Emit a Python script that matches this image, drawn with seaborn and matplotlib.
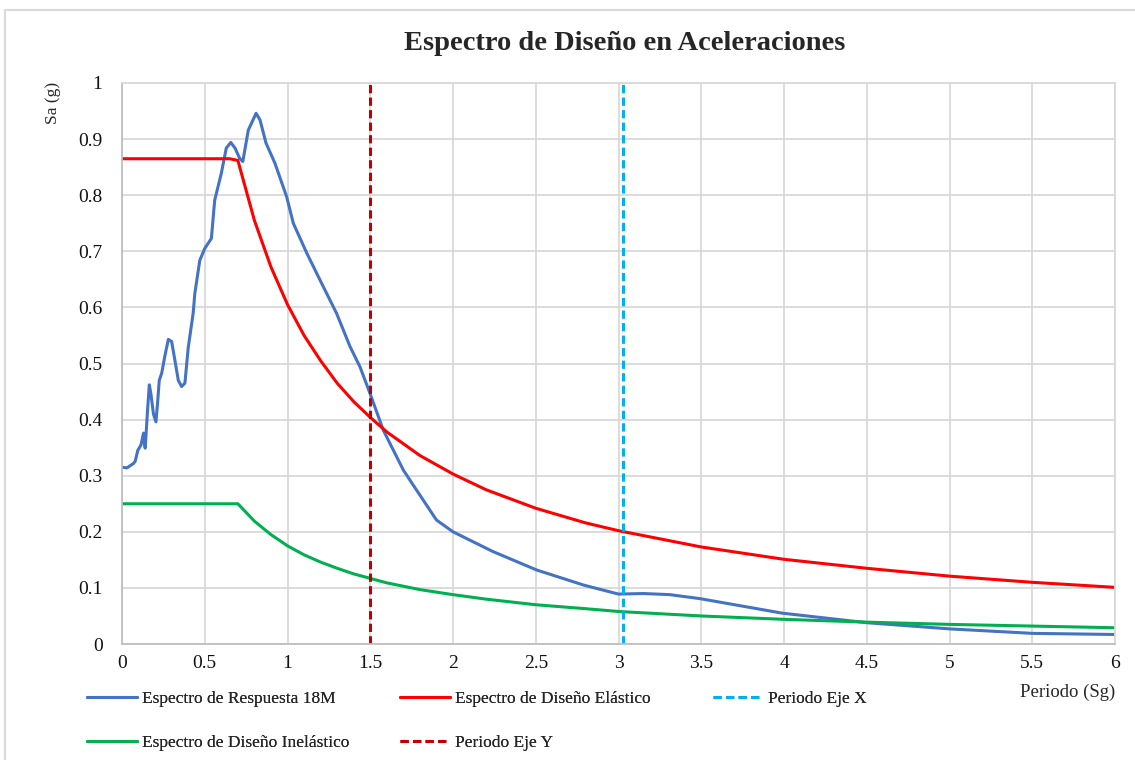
import numpy as np
import pandas as pd
import seaborn as sns
import matplotlib.pyplot as plt
from matplotlib.patches import Rectangle
from matplotlib.lines import Line2D

# Espectro de respuesta 18M
t_resp = [0.00, 0.03, 0.05, 0.07, 0.08, 0.095, 0.115, 0.13, 0.135, 0.14, 0.155, 0.165, 0.175,
          0.19, 0.205, 0.215, 0.225, 0.24, 0.26, 0.28, 0.30, 0.32, 0.34, 0.36, 0.38, 0.40,
          0.43, 0.44, 0.47, 0.50, 0.54, 0.56, 0.60, 0.63, 0.657, 0.683, 0.71, 0.73, 0.763,
          0.81, 0.834, 0.87, 0.924, 0.995, 1.035, 1.116, 1.196, 1.297, 1.378, 1.438, 1.498,
          1.579, 1.70, 1.74, 1.90, 2.00, 2.24, 2.505, 2.79, 3.00, 3.15, 3.31, 3.49, 3.99,
          4.50, 5.00, 5.50, 6.00]
sa_resp = [0.315, 0.314, 0.318, 0.322, 0.326, 0.345, 0.355, 0.376, 0.360, 0.349, 0.420, 0.462,
           0.445, 0.410, 0.396, 0.430, 0.470, 0.483, 0.515, 0.543, 0.539, 0.505, 0.470, 0.459,
           0.465, 0.528, 0.590, 0.625, 0.684, 0.705, 0.723, 0.791, 0.839, 0.884, 0.894, 0.884,
           0.866, 0.860, 0.916, 0.946, 0.934, 0.893, 0.857, 0.797, 0.750, 0.697, 0.649, 0.589,
           0.530, 0.494, 0.447, 0.381, 0.310, 0.292, 0.221, 0.200, 0.165, 0.132, 0.105, 0.089,
           0.090, 0.088, 0.081, 0.055, 0.038, 0.027, 0.019, 0.017]

# Espectro de diseño elástico / inelástico
t_dis = [0.0, 0.65, 0.7, 0.8, 0.9, 1.0, 1.1, 1.2, 1.3, 1.4, 1.5, 1.6, 1.8, 2.0, 2.2, 2.5, 2.8,
         3.0, 3.5, 4.0, 4.5, 5.0, 5.5, 6.0]
sa_elast = [0.865, 0.865, 0.862, 0.755, 0.672, 0.605, 0.550, 0.505, 0.465, 0.432, 0.404, 0.378,
            0.336, 0.303, 0.275, 0.242, 0.216, 0.202, 0.173, 0.151, 0.135, 0.121, 0.110, 0.101]
sa_inel = [0.250, 0.250, 0.250, 0.219, 0.195, 0.175, 0.159, 0.146, 0.135, 0.125, 0.117, 0.109,
           0.097, 0.088, 0.080, 0.070, 0.063, 0.058, 0.050, 0.044, 0.039, 0.035, 0.032, 0.029]

# Periodos de los ejes
periodo_x = [3.03, 3.03]
periodo_y = [1.5, 1.5]
sa_vert = [0.0, 1.0]

x_ticks = [0, 0.5, 1, 1.5, 2, 2.5, 3, 3.5, 4, 4.5, 5, 5.5, 6]
x_labels = ["0", "0.5", "1", "1.5", "2", "2.5", "3", "3.5", "4", "4.5", "5", "5.5", "6"]
y_ticks = [0, 0.1, 0.2, 0.3, 0.4, 0.5, 0.6, 0.7, 0.8, 0.9, 1.0]
y_labels = ["0", "0.1", "0.2", "0.3", "0.4", "0.5", "0.6", "0.7", "0.8", "0.9", "1"]

c_resp = "#4472C4"
c_elast = "#FF0000"
c_inel = "#00B050"
c_px = "#00B0F0"
c_py = "#C00000"
lw = 2.2
dash = (2.7, 1.4)

sns.set_theme(style="whitegrid")
plt.rcParams['font.family'] = ['Liberation Serif', 'DejaVu Serif']

fig = plt.figure(figsize=(11.35, 7.6), dpi=100)
ax = fig.add_axes([0.1075, 0.1526, 0.8749, 0.7382])

sns.lineplot(x=t_resp, y=sa_resp, sort=False, estimator=None, color=c_resp, lw=lw, ax=ax)
sns.lineplot(x=t_dis, y=sa_elast, sort=False, estimator=None, color=c_elast, lw=lw, ax=ax)
sns.lineplot(x=t_dis, y=sa_inel, sort=False, estimator=None, color=c_inel, lw=lw, ax=ax)
sns.lineplot(x=periodo_x, y=sa_vert, sort=False, estimator=None, color=c_px, lw=lw,
             ax=ax).lines[-1].set_dashes(dash)
sns.lineplot(x=periodo_y, y=sa_vert, sort=False, estimator=None, color=c_py, lw=lw,
             ax=ax).lines[-1].set_dashes(dash)

ax.set_xlim(0, 6)
ax.set_ylim(0, 1)
ax.set_xticks(x_ticks)
ax.set_xticklabels(x_labels)
ax.set_yticks(y_ticks)
ax.set_yticklabels(y_labels)
ax.tick_params(axis="both", length=0, labelsize=14, colors="#111111")
ax.tick_params(axis="y", pad=14)
ax.tick_params(axis="x", pad=8)
ax.grid(True, color="#d9d9d9", lw=1.3)
for s in ax.spines.values():
    s.set_color("#d9d9d9")
    s.set_linewidth(1.3)
ax.spines["left"].set_color("#bfbfbf")
ax.spines["bottom"].set_color("#bfbfbf")

ax.set_xlabel("Periodo (Sg)", fontsize=13.5, ha="right", va="center")
ax.xaxis.set_label_coords(1.0, -0.086)
ax.set_ylabel("Sa (g)", fontsize=12.5, ha="center", va="center")
ax.yaxis.set_label_coords(-0.07, 0.964)

fig.text(0.5507, 0.943, "Espectro de Diseño en Aceleraciones", ha="center", va="center",
         fontsize=20.5, fontweight="bold")

# legend in three columns, like the spreadsheet version
def handle(color, dashed=False):
    h = Line2D([], [], color=color, lw=lw)
    if dashed:
        h.set_dashes(dash)
    return h

leg_kw = dict(loc="upper left", frameon=False, borderpad=0, borderaxespad=0,
              fontsize=12.5, handlelength=2.9, handletextpad=0.25, labelspacing=1.6)
cols = [
    (87, [handle(c_resp), handle(c_inel)],
     ["Espectro de Respuesta 18M", "Espectro de Diseño Inelástico"]),
    (400, [handle(c_elast), handle(c_py, True)],
     ["Espectro de Diseño Elástico", "Periodo Eje Y"]),
    (713, [handle(c_px, True)], ["Periodo Eje X"]),
]
for x0, hs, labs in cols:
    lg = fig.legend(hs, labs, bbox_to_anchor=(x0 / 1135, 1 - 691 / 760), **leg_kw)
    fig.add_artist(lg)

fig.patches.append(Rectangle((0.004, -0.1), 1.2, 0.987 + 0.1, transform=fig.transFigure,
                             fill=False, edgecolor="#d9d9d9", lw=1.5))

fig.savefig("out.png", dpi=100, facecolor="white")
